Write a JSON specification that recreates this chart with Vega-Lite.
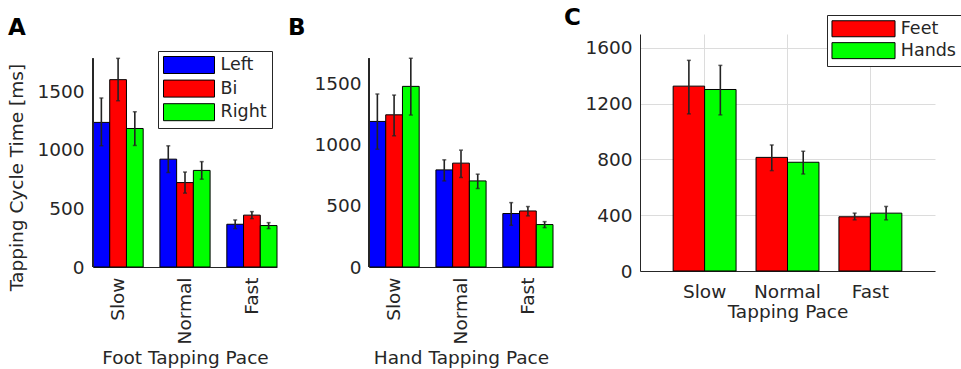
{
  "$schema": "https://vega.github.io/schema/vega-lite/v6.json",
  "background": "white",
  "padding": {"left": 7, "top": 6, "right": 0, "bottom": 0},
  "spacing": 9,
  "resolve": {
    "scale": {"x": "independent", "y": "independent", "color": "independent", "xOffset": "independent"},
    "legend": {"color": "independent"}
  },
  "config": {
    "font": "DejaVu Sans",
    "view": {"stroke": null},
    "axis": {
      "labelFont": "DejaVu Sans", "titleFont": "DejaVu Sans",
      "labelFontSize": 18.5, "titleFontSize": 18.5, "titleFontWeight": "normal",
      "labelColor": "#262626", "titleColor": "#262626",
      "domainColor": "#262626", "domainWidth": 1,
      "ticks": false, "tickSize": 0, "grid": false
    },
    "legend": {
      "orient": "none", "title": null,
      "labelFont": "DejaVu Sans", "labelFontSize": 17.5, "labelColor": "#262626",
      "strokeColor": "#262626", "fillColor": "white", "padding": 5,
      "symbolStrokeColor": "black", "symbolStrokeWidth": 1, "symbolOpacity": 1
    },
    "tick": {"color": "#222222", "thickness": 1.5, "size": 4},
    "title": {"fontSize": 23, "fontWeight": "bold", "anchor": "start", "frame": "bounds", "color": "#000000", "font": "DejaVu Sans"}
  },
  "hconcat": [
    {
      "title": {"text": "A", "offset": -6},
      "width": 184, "height": 233,
      "data": {"values": [
        {"pace": "Slow", "side": "Left", "mean": 1235, "lo": 1035, "hi": 1443},
        {"pace": "Slow", "side": "Bi", "mean": 1600, "lo": 1420, "hi": 1782},
        {"pace": "Slow", "side": "Right", "mean": 1183, "lo": 1038, "hi": 1326},
        {"pace": "Normal", "side": "Left", "mean": 921, "lo": 807, "hi": 1035},
        {"pace": "Normal", "side": "Bi", "mean": 721, "lo": 631, "hi": 811},
        {"pace": "Normal", "side": "Right", "mean": 825, "lo": 750, "hi": 900},
        {"pace": "Fast", "side": "Left", "mean": 365, "lo": 328, "hi": 402},
        {"pace": "Fast", "side": "Bi", "mean": 443, "lo": 413, "hi": 473},
        {"pace": "Fast", "side": "Right", "mean": 354, "lo": 328, "hi": 379}
      ]},
      "layer": [
        {
          "mark": {"type": "bar", "stroke": "black", "strokeWidth": 1},
          "encoding": {
            "x": {"field": "pace", "type": "nominal",
                  "scale": {"domain": ["Slow", "Normal", "Fast"], "paddingInner": 0.25, "paddingOuter": 0},
                  "axis": {"title": "Foot Tapping Pace", "labelAngle": 270, "labelPadding": 10, "titlePadding": 5}},
            "xOffset": {"field": "side", "type": "nominal", "scale": {"domain": ["Left", "Bi", "Right"], "paddingInner": 0, "paddingOuter": 0}},
            "y": {"field": "mean", "type": "quantitative", "scale": {"domain": [0, 1990], "nice": false},
                  "axis": {"title": "Tapping Cycle Time [ms]", "values": [0, 500, 1000, 1500], "format": "d", "domain": false, "labelPadding": 9, "titlePadding": 10, "titleY": 143}},
            "color": {"field": "side", "type": "nominal",
                      "scale": {"domain": ["Left", "Bi", "Right"], "range": ["#0000ff", "#ff0000", "#00ff00"]},
                      "legend": {"legendX": 65, "legendY": 17, "symbolType": "M-3,-1H3V1H-3Z", "symbolSize": 289,
                                 "symbolOffset": 17, "labelOffset": 22.5, "rowPadding": 1.6}}
          }
        },
        {
          "mark": {"type": "rule", "strokeWidth": 1.6, "color": "#222222"},
          "encoding": {
            "x": {"field": "pace", "type": "nominal", "scale": {"domain": ["Slow", "Normal", "Fast"]}},
            "xOffset": {"field": "side", "type": "nominal", "scale": {"domain": ["Left", "Bi", "Right"]}},
            "y": {"field": "lo", "type": "quantitative"}, "y2": {"field": "hi"}
          }
        },
        {
          "mark": {"type": "tick"},
          "encoding": {
            "x": {"field": "pace", "type": "nominal", "scale": {"domain": ["Slow", "Normal", "Fast"]}},
            "xOffset": {"field": "side", "type": "nominal", "scale": {"domain": ["Left", "Bi", "Right"]}},
            "y": {"field": "hi", "type": "quantitative"}
          }
        },
        {
          "mark": {"type": "tick"},
          "encoding": {
            "x": {"field": "pace", "type": "nominal", "scale": {"domain": ["Slow", "Normal", "Fast"]}},
            "xOffset": {"field": "side", "type": "nominal", "scale": {"domain": ["Left", "Bi", "Right"]}},
            "y": {"field": "lo", "type": "quantitative"}
          }
        },
        {
          "mark": {"type": "rule", "strokeWidth": 1, "color": "#262626"},
          "encoding": {
            "x": {"datum": "Slow", "type": "nominal", "bandPosition": 0, "scale": {"domain": ["Slow", "Normal", "Fast"]}},
            "y": {"datum": 0, "type": "quantitative"}, "y2": {"datum": 1780}
          }
        }
      ]
    },
    {
      "title": {"text": "B", "offset": -6, "dx": -26},
      "width": 184, "height": 233,
      "data": {"values": [
        {"pace": "Slow", "side": "Left", "mean": 1187, "lo": 961, "hi": 1410},
        {"pace": "Slow", "side": "Bi", "mean": 1241, "lo": 1070, "hi": 1402},
        {"pace": "Slow", "side": "Right", "mean": 1473, "lo": 1239, "hi": 1702},
        {"pace": "Normal", "side": "Left", "mean": 792, "lo": 702, "hi": 874},
        {"pace": "Normal", "side": "Bi", "mean": 847, "lo": 730, "hi": 953},
        {"pace": "Normal", "side": "Right", "mean": 702, "lo": 640, "hi": 757},
        {"pace": "Fast", "side": "Left", "mean": 436, "lo": 340, "hi": 525},
        {"pace": "Fast", "side": "Bi", "mean": 457, "lo": 417, "hi": 493},
        {"pace": "Fast", "side": "Right", "mean": 346, "lo": 321, "hi": 370}
      ]},
      "layer": [
        {
          "mark": {"type": "bar", "stroke": "black", "strokeWidth": 1},
          "encoding": {
            "x": {"field": "pace", "type": "nominal",
                  "scale": {"domain": ["Slow", "Normal", "Fast"], "paddingInner": 0.25, "paddingOuter": 0},
                  "axis": {"title": "Hand Tapping Pace", "labelAngle": 270, "labelPadding": 10, "titlePadding": 5}},
            "xOffset": {"field": "side", "type": "nominal", "scale": {"domain": ["Left", "Bi", "Right"], "paddingInner": 0, "paddingOuter": 0}},
            "y": {"field": "mean", "type": "quantitative", "scale": {"domain": [0, 1900], "nice": false},
                  "axis": {"title": null, "values": [0, 500, 1000, 1500], "format": "d", "domain": false, "labelPadding": 8}},
            "color": {"field": "side", "type": "nominal",
                      "scale": {"domain": ["Left", "Bi", "Right"], "range": ["#0000ff", "#ff0000", "#00ff00"]},
                      "legend": null}
          }
        },
        {
          "mark": {"type": "rule", "strokeWidth": 1.6, "color": "#222222"},
          "encoding": {
            "x": {"field": "pace", "type": "nominal", "scale": {"domain": ["Slow", "Normal", "Fast"]}},
            "xOffset": {"field": "side", "type": "nominal", "scale": {"domain": ["Left", "Bi", "Right"]}},
            "y": {"field": "lo", "type": "quantitative"}, "y2": {"field": "hi"}
          }
        },
        {
          "mark": {"type": "tick"},
          "encoding": {
            "x": {"field": "pace", "type": "nominal", "scale": {"domain": ["Slow", "Normal", "Fast"]}},
            "xOffset": {"field": "side", "type": "nominal", "scale": {"domain": ["Left", "Bi", "Right"]}},
            "y": {"field": "hi", "type": "quantitative"}
          }
        },
        {
          "mark": {"type": "tick"},
          "encoding": {
            "x": {"field": "pace", "type": "nominal", "scale": {"domain": ["Slow", "Normal", "Fast"]}},
            "xOffset": {"field": "side", "type": "nominal", "scale": {"domain": ["Left", "Bi", "Right"]}},
            "y": {"field": "lo", "type": "quantitative"}
          }
        },
        {
          "mark": {"type": "rule", "strokeWidth": 1, "color": "#262626"},
          "encoding": {
            "x": {"datum": "Slow", "type": "nominal", "bandPosition": 0, "scale": {"domain": ["Slow", "Normal", "Fast"]}},
            "y": {"datum": 0, "type": "quantitative"}, "y2": {"datum": 1700}
          }
        }
      ]
    },
    {
      "title": {"text": "C", "offset": -15, "dx": -21},
      "width": 295, "height": 237,
      "data": {"values": [
        {"pace": "Slow", "limb": "Feet", "mean": 1326, "lo": 1127, "hi": 1511},
        {"pace": "Slow", "limb": "Hands", "mean": 1302, "lo": 1120, "hi": 1475},
        {"pace": "Normal", "limb": "Feet", "mean": 815, "lo": 720, "hi": 904},
        {"pace": "Normal", "limb": "Hands", "mean": 780, "lo": 696, "hi": 859},
        {"pace": "Fast", "limb": "Feet", "mean": 389, "lo": 367, "hi": 415},
        {"pace": "Fast", "limb": "Hands", "mean": 415, "lo": 367, "hi": 463}
      ]},
      "layer": [
        {
          "mark": {"type": "bar", "stroke": "black", "strokeWidth": 1},
          "encoding": {
            "x": {"field": "pace", "type": "nominal",
                  "scale": {"domain": ["Slow", "Normal", "Fast"], "paddingInner": 0.241, "paddingOuter": 0.4},
                  "axis": {"title": "Tapping Pace", "labelAngle": 0, "labelPadding": 11, "titlePadding": 2,
                           "grid": true, "gridColor": "#dcdcdc", "bandPosition": 0.5}},
            "xOffset": {"field": "limb", "type": "nominal", "scale": {"domain": ["Feet", "Hands"], "paddingInner": 0, "paddingOuter": 0}},
            "y": {"field": "mean", "type": "quantitative", "scale": {"domain": [0, 1700], "nice": false},
                  "axis": {"title": null, "values": [0, 400, 800, 1200, 1600], "format": "d", "labelPadding": 8,
                           "grid": true, "gridColor": "#dcdcdc"}},
            "color": {"field": "limb", "type": "nominal",
                      "scale": {"domain": ["Feet", "Hands"], "range": ["#ff0000", "#00ff00"]},
                      "legend": {"legendX": 187, "legendY": -19, "symbolType": "M-3.94,-1H3.94V1H-3.94Z", "symbolSize": 256,
                                 "symbolOffset": 22.75, "labelOffset": 28.5, "rowPadding": 0.9}}
          }
        },
        {
          "mark": {"type": "rule", "strokeWidth": 1.6, "color": "#222222"},
          "encoding": {
            "x": {"field": "pace", "type": "nominal", "scale": {"domain": ["Slow", "Normal", "Fast"]}},
            "xOffset": {"field": "limb", "type": "nominal", "scale": {"domain": ["Feet", "Hands"]}},
            "y": {"field": "lo", "type": "quantitative"}, "y2": {"field": "hi"}
          }
        },
        {
          "mark": {"type": "tick"},
          "encoding": {
            "x": {"field": "pace", "type": "nominal", "scale": {"domain": ["Slow", "Normal", "Fast"]}},
            "xOffset": {"field": "limb", "type": "nominal", "scale": {"domain": ["Feet", "Hands"]}},
            "y": {"field": "hi", "type": "quantitative"}
          }
        },
        {
          "mark": {"type": "tick"},
          "encoding": {
            "x": {"field": "pace", "type": "nominal", "scale": {"domain": ["Slow", "Normal", "Fast"]}},
            "xOffset": {"field": "limb", "type": "nominal", "scale": {"domain": ["Feet", "Hands"]}},
            "y": {"field": "lo", "type": "quantitative"}
          }
        }
      ]
    }
  ]
}
